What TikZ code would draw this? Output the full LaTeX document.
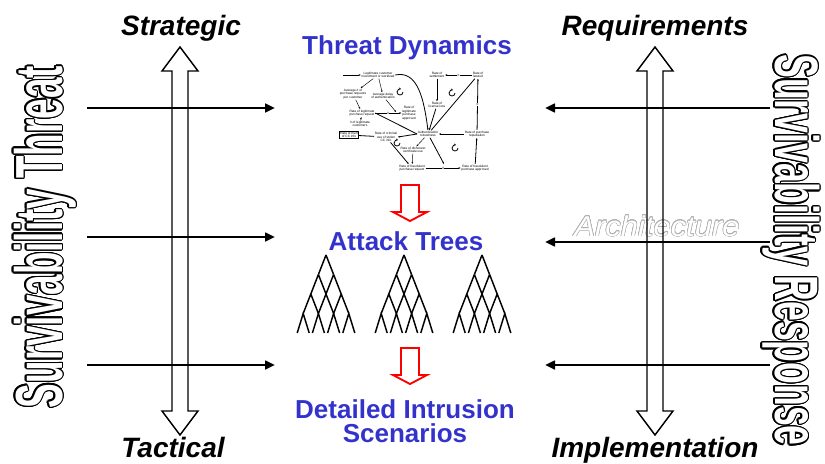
\documentclass[tikz,border=0pt]{standalone}
\usepackage{fontspec}
\setmainfont{Liberation Sans}
\usepackage{contour}
\usetikzlibrary{arrows.meta}

\definecolor{titleblue}{RGB}{51,51,204}
\definecolor{archgray}{RGB}{175,175,175}

\tikzset{
	feedarrow/.style={line width=1.9pt, -{Triangle[length=7.5pt,width=6.5pt]}},
	scalearrow/.style={line width=1.1pt, line join=miter},
	flowarrow/.style={draw=red, line width=1.4pt, line join=miter},
	treeline/.style={line width=1.1pt},
	sidelabel/.style={font=\fontsize{21}{21}\selectfont\bfseries\itshape, anchor=base, inner sep=0pt},
	stagetitle/.style={font=\fontsize{19.5}{18}\selectfont\bfseries, text=titleblue, anchor=base, align=center, inner sep=0pt},
	cld/.style={font=\fontsize{2.4}{2.6}\selectfont, align=center, inner sep=0.4pt},
	cldlink/.style={line width=0.35pt, -{Stealth[length=1.6pt,width=1.3pt]}},
	cldloop/.style={line width=0.6pt, -{Stealth[length=1.6pt,width=1.6pt]}}
}

\begin{document}
\begin{tikzpicture}[x=0.75pt,y=0.75pt,yscale=-1,xscale=1]
	\useasboundingbox (0,0) rectangle (825,464);
	
	% outlined side labels
	\node[rotate=90, anchor=base, inner sep=0pt, text=white, font=\fontsize{50}{50}\selectfont\bfseries] (threatlbl) at (62,237)
		{\contourlength{1pt}\contour{black}{\scalebox{0.553}[1]{Survivability Threat}}};
	\node[rotate=-90, anchor=base, inner sep=0pt, text=white, font=\fontsize{46}{46}\selectfont\bfseries] (resplbl) at (775,250)
		{\contourlength{1pt}\contour{black}{\scalebox{0.58}[1]{Survivability Response}}};
	\node[anchor=base, inner sep=0pt, text=white, font=\fontsize{21.5}{21.5}\selectfont\itshape] (archlbl) at (657,236)
		{\contourlength{0.4pt}\contour{archgray}{\scalebox{1.08}[1]{Architecture}}};
	
	% level labels
	\node[sidelabel] (strategic) at (181,36) {Strategic};
	\node[sidelabel] (tactical) at (173,457) {Tactical};
	\node[sidelabel] (requirements) at (655,36) {Requirements};
	\node[sidelabel] (implementation) at (655,457) {Implementation};
	
	% stage titles
	\node[stagetitle] (dyntitle) at (407,54) {Threat Dynamics};
	\node[stagetitle] (treetitle) at (406,250) {Attack Trees};
	\node[stagetitle] (scentitle) at (405,442) {Detailed Intrusion\\Scenarios};
	
	% double arrows
	\foreach \cx in {180,655} {
		\draw[scalearrow] (\cx,47) -- (\cx+18,71) -- (\cx+8,71) -- (\cx+8,411) -- (\cx+18,411) -- (\cx,435)
			-- (\cx-18,411) -- (\cx-8,411) -- (\cx-8,71) -- (\cx-18,71) -- cycle;
	}
	
	% threat inputs
	\foreach \y [count=\i] in {108,237,365} {
		\coordinate (threat\i) at (87,\y);
		\coordinate (model\i) at (275,\y);
		\draw[feedarrow] (threat\i) -- (model\i);
	}
	% response inputs
	\foreach \y [count=\i] in {108,242,365} {
		\coordinate (resp\i) at (770,\y);
		\coordinate (arch\i) at (545,\y);
		\draw[feedarrow] (resp\i) -- (arch\i);
	}
	
	% red refinement arrows
	\foreach \ty in {185,348} {
		\draw[flowarrow] (401,\ty) -- (419,\ty) -- (419,\ty+27) -- (427,\ty+27) -- (410,\ty+36)
			-- (393,\ty+27) -- (401,\ty+27) -- cycle;
	}
	
	% attack trees
	\foreach \ax in {326,404,482} {
		\foreach \k in {0,1,2} {
			\foreach \i in {0,...,\k} {
				\draw[treeline] ({\ax+(2*\i-\k)*7.6},{255+\k*19.5}) -- ++(-7.6,19.5)
					({\ax+(2*\i-\k)*7.6},{255+\k*19.5}) -- ++(7.6,19.5);
			}
		}
		\foreach \i in {0,...,3} {
			\draw[treeline] ({\ax+(2*\i-3)*7.6-6},333) -- ({\ax+(2*\i-3)*7.6},313.5) -- ({\ax+(2*\i-3)*7.6+6},333);
		}
	}
	
	% threat dynamics model
	\node[cld] (cust) at (378,75) {Legitimate customer\\investment or workload};
	\node[cld] (avgreq) at (353,94) {Average \# of\\purchase requests\\per customer};
	\node[cld] (avgdelay) at (383,96) {Average delay\\of authentication};
	\node[cld] (legreq) at (362,113) {Rate of legitimate\\purchase request};
	\node[cld] (legappr) at (409,113) {Rate of\\legitimate\\purchase\\approved};
	\node[cld] (legnum) at (360,124) {\# of legitimate\\customers};
	\node[cld, draw, line width=0.5pt] (theft) at (349,135) {Rate of theft\\of CC info};
	\node[cld] (attacker) at (386,137) {Rate of criminal\\use of stolen\\CC info};
	\node[cld] (authrob) at (428,134) {Authentication\\robustness};
	\node[cld] (repud) at (477,134) {Rate of purchase\\repudiation};
	\node[cld] (settle) at (437,75) {Rate of\\settlement};
	\node[cld] (lawsuit) at (478,75) {Rate of\\lawsuit};
	\node[cld] (license) at (437,105) {Rate of\\license loss};
	\node[cld] (dishonest) at (413,150) {Rate of dishonest\\certificate use};
	\node[cld] (fraudreq) at (412,168) {Rate of fraudulent\\purchase request};
	\node[cld] (fraudappr) at (475,168) {Rate of fraudulent\\purchase approved};
	\coordinate (custin) at (343,75);
	
	\draw[cldlink] (custin) -- (cust);
	\draw[cldlink] (cust) -- (avgreq);
	\draw[cldlink] (cust) -- (avgdelay);
	\draw[cldlink, line width=0.6pt] (cust.east) .. controls (418,70) and (424,100) .. (authrob.north);
	\draw[cldlink] (avgreq) -- (legreq);
	\draw[cldlink] (legnum) -- (legreq);
	\draw[cldlink, line width=0.6pt] (legreq.east) -- (legappr.west) node[midway, font=\fontsize{2.4}{2.4}\selectfont, inner sep=0.2pt, fill=white] {II};
	\draw[cldlink] (avgdelay) -- (396,112);
	\draw[line width=0.6pt] (legreq.east) -- (authrob.west);
	\draw[line width=0.6pt] (theft) -- (attacker);
	\draw[cldlink, line width=0.6pt] (authrob.west) -- (attacker.east);
	\draw[cldlink, line width=0.6pt] (repud) -- (authrob);
	\draw[cldlink, line width=0.6pt] (lawsuit) -- (settle) node[midway, font=\fontsize{2.4}{2.4}\selectfont, inner sep=0.2pt, fill=white] {II};
	\draw[cldlink] (settle) -- (license);
	\draw[cldlink, line width=0.6pt] (license) -- (authrob);
	\draw[line width=0.6pt] (lawsuit) -- (authrob);
	\draw[cldlink, line width=0.6pt] (repud) -- (lawsuit) node[midway, font=\fontsize{2.4}{2.4}\selectfont, inner sep=0.2pt, fill=white] {II};
	\draw[cldlink, line width=0.6pt] (attacker) -- (fraudreq);
	\draw[cldlink] (authrob) -- (dishonest);
	\draw[cldlink, line width=0.6pt] (authrob) -- (444,164);
	\draw[cldlink] (dishonest) -- (fraudreq);
	\draw[cldlink, line width=0.6pt] (fraudreq) -- (fraudappr) node[midway, font=\fontsize{2.4}{2.4}\selectfont, inner sep=0.2pt, fill=white] {II};
	\draw[cldlink, line width=0.6pt] (fraudappr) -- (repud) node[midway, font=\fontsize{2.4}{2.4}\selectfont, inner sep=0.2pt, fill=white] {II};
	
	% loop markers
	\foreach \lx/\ly in {400/92, 452/93, 397/143, 455/148} {
		\draw[cldloop] (\lx+3,\ly) arc[start angle=0, end angle=290, radius=3];
	}
	
\end{tikzpicture}
\end{document}
